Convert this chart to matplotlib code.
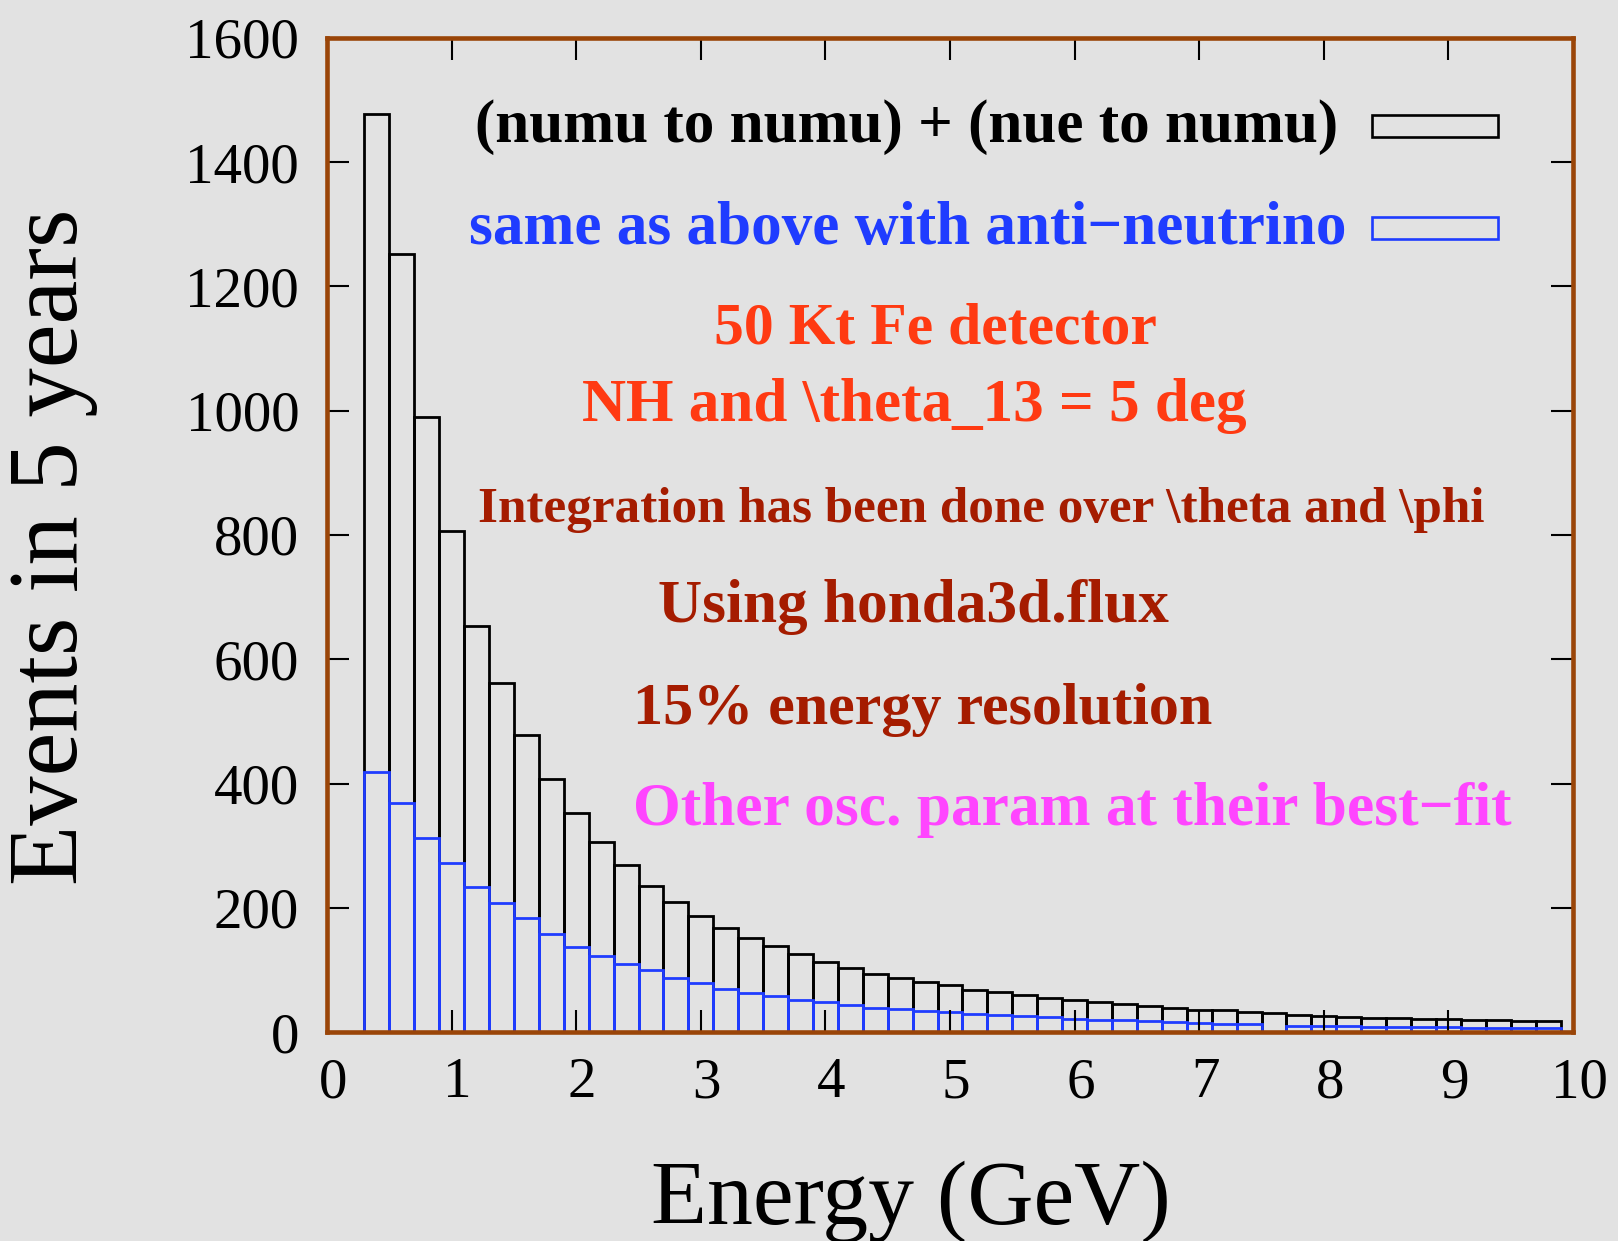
import numpy as np
import matplotlib.pyplot as plt
import matplotlib.transforms as mtransforms
from matplotlib.patches import Rectangle

plt.rcParams['font.family'] = ['Liberation Serif', 'DejaVu Serif']

# 0.2 GeV bins from 0.3 to 9.9 GeV
bin_width = 0.2
bin_left = np.round(np.arange(0.3, 9.85, bin_width), 2)

# numu -> numu plus nue -> numu
numu_events = [1477, 1253, 990, 806, 653, 561, 478, 407, 352, 306,
               269, 235, 210, 187, 168, 152, 138, 125, 112, 103,
               94, 87, 80, 75, 68, 64, 60, 55, 51, 49,
               45, 42, 38, 36, 35, 33, 30, 28, 26, 24,
               23, 22.5, 21.5, 21, 20, 19, 18, 17.5]

# same with anti-neutrino (the 7.5-7.7 GeV bin is empty in the output file)
anti_events = [418, 368, 313, 272, 234, 208, 184, 158, 137, 123,
               110, 100, 87, 79, 69, 62, 58, 52, 48, 44,
               39, 37, 34, 32, 29, 27, 25, 24, 21.5, 20,
               19, 18, 16, 14.5, 13.5, 12.5, np.nan, 10, 9, 9,
               8.6, 8, 7.5, 7.5, 7, 7, 6.5, 6]

bg = '#e2e2e2'
frame_col = '#9a4508'
blue = '#1f3cff'
orange = '#ff3a12'
darkred = '#a51c00'
magenta = '#ff45ff'

fig = plt.figure(figsize=(16.18, 12.41), dpi=100, facecolor=bg)
ax = fig.add_axes([0.2021, 0.1684, 0.7701, 0.801])
ax.set_facecolor(bg)

ax.bar(bin_left, numu_events, width=bin_width, align='edge',
       fill=False, edgecolor='black', linewidth=2.0)
ax.bar(bin_left, anti_events, width=bin_width, align='edge',
       fill=False, edgecolor=blue, linewidth=2.0)

ax.set_xlim(0, 10)
ax.set_ylim(0, 1600)
ax.set_xticks(range(0, 11))
ax.set_yticks(range(0, 1601, 200))

for s in ax.spines.values():
    s.set_color(frame_col)
    s.set_linewidth(3.3)

ax.tick_params(direction='in', top=True, right=True, length=16, width=1.5,
               color='black', labelsize=41)
ax.tick_params(axis='y', pad=20)
ax.tick_params(axis='x', pad=18)
shift = mtransforms.ScaledTranslation(6 / 100, 0, fig.dpi_scale_trans)
for lab in ax.get_xticklabels():
    lab.set_transform(lab.get_transform() + shift)

fig.text(77 / 1618, 1 - 547 / 1241, 'Events in 5 years', rotation=90,
         ha='center', va='baseline', rotation_mode='anchor', fontsize=71)
fig.text(911 / 1618, 1 - 1224 / 1241, 'Energy (GeV)',
         ha='center', va='baseline', fontsize=66)

# key: label text then an open box sample, gnuplot style
key = [('(numu to numu) + (nue to numu)', 'black', 0.8114, 0.8954, 0.9004),
       ('same as above with anti\u2212neutrino', blue, 0.8186, 0.7928, 0.7978)]
for label, col, tx, ty, by in key:
    ax.text(tx, ty, label, transform=ax.transAxes, color=col, fontsize=44,
            fontweight='bold', ha='right', va='baseline')
    ax.add_patch(Rectangle((0.8387, by), 0.1011, 0.0221, transform=ax.transAxes,
                           fill=False, edgecolor=col, lw=1.9))

# run notes
ax.text(4.88, 1108, '50 Kt Fe detector', color=orange, fontsize=43,
        fontweight='bold', ha='center', va='baseline')
ax.text(4.71, 984, 'NH and \\theta_13 = 5 deg', color=orange, fontsize=44,
        fontweight='bold', ha='center', va='baseline')
ax.text(5.25, 821, 'Integration has been done over \\theta and \\phi',
        color=darkred, fontsize=36.8, fontweight='bold', ha='center', va='baseline')
ax.text(4.71, 660, 'Using honda3d.flux', color=darkred, fontsize=44.1,
        fontweight='bold', ha='center', va='baseline')
ax.text(4.78, 495, '15% energy resolution', color=darkred, fontsize=43.3,
        fontweight='bold', ha='center', va='baseline')
ax.text(5.98, 333, 'Other osc. param at their best\u2212fit', color=magenta,
        fontsize=44.2, fontweight='bold', ha='center', va='baseline')

fig.savefig('out.png', dpi=100, facecolor=bg)
